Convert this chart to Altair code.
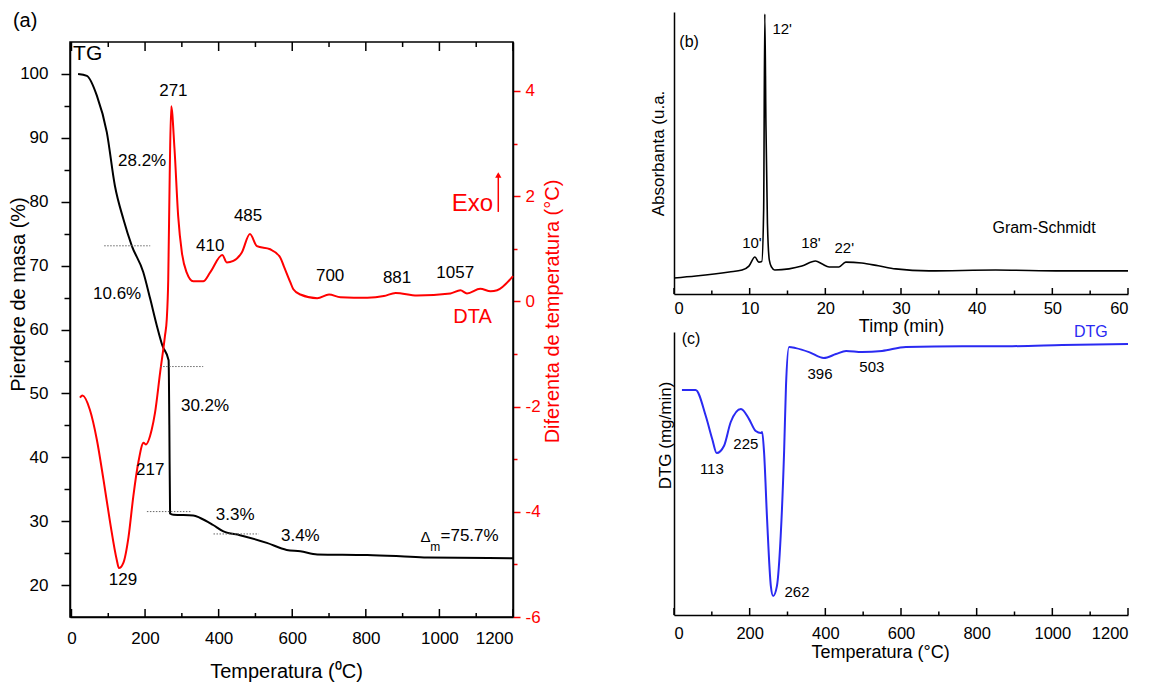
import altair as alt
import pandas as pd

# ---------------- data ----------------
# (a) TG curve
tg_temp = [18, 42, 69, 96, 118, 141, 164, 195, 214, 232, 247, 264, 266, 268, 277, 331, 350, 385,
           413, 458, 531, 585, 622, 668, 804, 894, 967, 1200]
tg_mass = [100.0, 99.7, 96.6, 90.9, 82.5, 77.3, 73.1, 69.0, 64.8, 60.6, 57.5, 55.2, 45.0, 31.2,
           31.0, 30.9, 30.5, 29.4, 28.4, 27.8, 26.6, 25.5, 25.3, 24.8, 24.7, 24.5, 24.3, 24.2]

# (a) DTA curve
dta_temp = [23, 30, 50, 69, 87, 105, 123, 129, 141, 155, 168, 182, 196, 202, 218, 227, 241, 254,
            259, 263, 267, 271, 280, 290, 300, 313, 331, 358, 377, 410, 422, 440, 463, 485, 504,
            540, 567, 577, 595, 603, 622, 668, 700, 731, 804, 849, 881, 939, 1030, 1057, 1075,
            1111, 1139, 1157, 1200]
dta_diff = [-1.83, -1.79, -2.06, -2.63, -3.39, -4.20, -4.91, -5.07, -4.97, -4.48, -3.71, -3.05,
            -2.69, -2.72, -2.44, -2.12, -1.35, -0.66, -0.34, 0.42, 2.40, 3.71, 2.90, 1.62, 0.93,
            0.55, 0.38, 0.38, 0.55, 0.88, 0.74, 0.77, 0.93, 1.28, 1.05, 0.99, 0.84, 0.67, 0.36,
            0.23, 0.13, 0.06, 0.13, 0.08, 0.07, 0.10, 0.16, 0.11, 0.15, 0.21, 0.15, 0.24, 0.19,
            0.21, 0.48]

# (a) annotations on TG scale
tg_lab_temp = [277, 192, 377, 480, 124, 363, 214, 140, 445, 622, 703, 885, 1043]
tg_lab_mass = [97.3, 86.3, 73.1, 77.7, 65.6, 48.0, 38.0, 20.8, 30.9, 27.7, 68.4, 68.1, 68.9]
tg_lab_text = ["271", "28.2%", "410", "485", "10.6%", "30.2%", "217", "129", "3.3%", "3.4%",
               "700", "881", "1057"]

# (a) dotted step markers
step_from = [89, 241, 205, 386]
step_to = [214, 358, 327, 509]
step_mass = [73.1, 54.2, 31.5, 28.0]

# (b) Gram-Schmidt
gs_time = [0, 2.9, 7.3, 9.0, 9.9, 10.7, 11.2, 11.6, 11.85, 12.0, 12.15, 12.35, 12.6, 12.9, 13.3,
           15.2, 16.9, 18.7, 19.6, 20.5, 21.8, 22.7, 24.8, 27.0, 29.3, 33.7, 42.5, 51.3, 60]
gs_abs = [5.7, 6.4, 7.8, 8.5, 9.9, 13.1, 11.3, 11.5, 30, 99.3, 60, 25, 12, 9.5, 8.5, 8.9, 9.9,
          11.7, 10.6, 9.6, 9.6, 11.3, 11.0, 10.0, 8.9, 8.2, 8.5, 8.2, 8.2]
gs_lab_time = [14.3, 10.3, 18.1, 22.5]
gs_lab_abs = [94.0, 18.1, 18.1, 16.3]
gs_lab_text = ["12'", "10'", "18'", "22'"]

# (c) DTG
dtg_temp = [21, 57, 84, 101, 113, 132, 150, 177, 198, 216, 230, 233, 238, 246, 256, 262, 272,
            282, 291, 296, 304, 322, 357, 396, 428, 455, 497, 550, 613, 762, 894, 1026, 1200]
dtg_val = [79.5, 79.5, 70.3, 62.2, 57.2, 59.7, 68.2, 72.8, 69.3, 65.0, 64.3, 64.7, 57.6, 33.9,
           10.2, 6.7, 10.2, 27.9, 57.6, 80.9, 94.7, 94.3, 92.9, 90.8, 92.2, 93.3, 92.9, 93.3,
           94.7, 95.0, 95.0, 95.4, 95.8]
dtg_lab_temp = [100, 190, 325, 386, 523]
dtg_lab_val = [51.6, 60.4, 8.1, 85.2, 87.6]
dtg_lab_text = ["113", "225", "262", "396", "503"]

FONT = "Liberation Sans"
RED = "#ff0000"
BLUE = "#2a2af2"

# ---------------- panel (a) ----------------
XA = alt.Scale(domain=[-4, 1200], nice=False, zero=False)
YTG = alt.Scale(domain=[15, 105], nice=False, zero=False)
YDTA = alt.Scale(domain=[-6, 4.93], nice=False, zero=False)
PX_TG = 575 / 90.0

AX_A = alt.Axis(
    values=list(range(0, 1201, 200)), format="d", tickSize=1, tickOpacity=0, labelPadding=12,
    labelFontSize=17, title="Temperatura (⁰C)", titleFontSize=20, titleX=216, titleY=44,
    domainWidth=1.5, domainColor="black")


def xa(field):
    return alt.X(field, scale=XA, axis=AX_A)


tg_df = pd.DataFrame({"T": tg_temp, "v": tg_mass})
dta_df = pd.DataFrame({"T": dta_temp, "d": dta_diff})

tg_line = alt.Chart(tg_df).mark_line(color="black", strokeWidth=2, interpolate="monotone").encode(
    x=xa("T:Q"),
    y=alt.Y("v:Q", scale=YTG, axis=alt.Axis(
        values=list(range(20, 101, 5)),
        labelExpr="datum.value % 10 === 0 ? datum.label : ''",
        tickSize={"condition": {"test": "datum.value % 10 === 0", "value": 9}, "value": 6},
        tickColor="black", tickWidth=1.5, labelPadding=13, labelFontSize=17,
        domainWidth=1.5, domainColor="black",
        title="Pierdere de masa (%)", titleFontSize=20, titleX=-42, titleY=252)),
)

dta_line = alt.Chart(dta_df).mark_line(color=RED, strokeWidth=2, interpolate="monotone").encode(
    x=xa("T:Q"),
    y=alt.Y("d:Q", scale=YDTA, axis=alt.Axis(
        orient="right", values=list(range(-6, 5)),
        labelExpr="datum.value % 2 === 0 ? '' + datum.value : ''",
        tickSize={"condition": {"test": "datum.value % 2 === 0", "value": 7}, "value": 4},
        tickColor=RED, tickWidth=1.5, labelColor=RED, labelPadding=5, labelFontSize=17,
        domainWidth=1.5, domainColor="black",
        title="Diferenta de temperatura (°C)", titleColor=RED, titleFontSize=20,
        titleAngle=270, titleX=49, titleY=269)),
)

# inward ticks (bottom and top) of panel (a)
ta = list(range(0, 1201, 100))
tick_a_df = pd.DataFrame({
    "T": ta + ta,
    "y0": [15.0] * len(ta) + [105.0] * len(ta),
    "y1": [15 + (8 if t % 200 == 0 else 4) / PX_TG for t in ta]
          + [105 - (9 if t % 200 == 0 else 5) / PX_TG for t in ta],
})
ticks_a = alt.Chart(tick_a_df).mark_rule(color="black", strokeWidth=1.5).encode(
    x=xa("T:Q"), y=alt.Y("y0:Q", scale=YTG, axis=None), y2="y1:Q")

steps_df = pd.DataFrame({"T": step_from, "T2": step_to, "v": step_mass})
steps = alt.Chart(steps_df).mark_rule(color="#666666", strokeWidth=1, strokeDash=[1.5, 1.5]).encode(
    x=xa("T:Q"), x2="T2:Q", y=alt.Y("v:Q", scale=YTG, axis=None))

lab_df = pd.DataFrame({"T": tg_lab_temp, "v": tg_lab_mass, "t": tg_lab_text})
labels_a = alt.Chart(lab_df).mark_text(fontSize=17, font=FONT, color="black").encode(
    x=xa("T:Q"), y=alt.Y("v:Q", scale=YTG, axis=None), text="t:N")

misc_df = pd.DataFrame({
    "T": [44, -126, 962, 989],
    "v": [103.1, 108.3, 27.6, 25.9],
    "t": ["TG", "(a)", "Δ", "m"],
    "s": [21, 20, 15, 12],
})
misc_a = alt.Chart(misc_df).mark_text(font=FONT, color="black").encode(
    x=xa("T:Q"), y=alt.Y("v:Q", scale=YTG, axis=None), text="t:N",
    size=alt.Size("s:Q", scale=None, legend=None))

dm_df = pd.DataFrame({"T": [1003], "v": [27.7], "t": ["=75.7%"]})
dm_a = alt.Chart(dm_df).mark_text(font=FONT, fontSize=17, color="black", align="left").encode(
    x=xa("T:Q"), y=alt.Y("v:Q", scale=YTG, axis=None), text="t:N")

red_df = pd.DataFrame({"T": [1090, 1090], "d": [1.85, -0.30], "t": ["Exo", "DTA"], "s": [24, 20]})
red_a = alt.Chart(red_df).mark_text(font=FONT, color=RED).encode(
    x=xa("T:Q"), y=alt.Y("d:Q", scale=YDTA, axis=None), text="t:N",
    size=alt.Size("s:Q", scale=None, legend=None))

arrow_df = pd.DataFrame({"T": [1160], "d": [1.70], "d2": [2.40]})
arrow_line = alt.Chart(arrow_df).mark_rule(color=RED, strokeWidth=1.5).encode(
    x=xa("T:Q"), y=alt.Y("d:Q", scale=YDTA, axis=None), y2="d2:Q")
arrow_head = alt.Chart(arrow_df).mark_point(shape="triangle-up", filled=True, color=RED,
                                            size=40, opacity=1).encode(
    x=xa("T:Q"), y=alt.Y("d2:Q", scale=YDTA, axis=None))

panel_a = alt.layer(
    tg_line, dta_line, ticks_a, steps, labels_a, misc_a, dm_a, red_a, arrow_line, arrow_head
).resolve_scale(y="independent").properties(
    width=443, height=575, view=alt.ViewBackground(stroke="black", strokeWidth=1.5))

spacer = alt.Chart(pd.DataFrame({"s": [0]})).mark_point(opacity=0).encode(
    x=alt.X("s:Q", axis=None), y=alt.Y("s:Q", axis=None)).properties(width=443, height=1)

# ---------------- panel (b) ----------------
XB = alt.Scale(domain=[0, 60], nice=False, zero=False)
YB = alt.Scale(domain=[0, 100], nice=False, zero=False)
PX_B = 282 / 100.0
AX_BX = alt.Axis(values=list(range(0, 61, 10)), tickSize=1, tickOpacity=0, labelPadding=5,
                 labelFontSize=16.5, title="Timp (min)", titleFontSize=18, titleY=23,
                 domainWidth=1.5, domainColor="black")
AX_BY = alt.Axis(tickSize=1, tickOpacity=0, labels=False, domainWidth=1.5, domainColor="black",
                 title="Absorbanta (u.a.", titleFontSize=17, titleX=-7)


def xb(field):
    return alt.X(field, scale=XB, axis=AX_BX)


def yb(field):
    return alt.Y(field, scale=YB, axis=AX_BY)


gs_df = pd.DataFrame({"t": gs_time, "a": gs_abs})
gs_line = alt.Chart(gs_df).mark_line(color="black", strokeWidth=1.6, interpolate="monotone").encode(
    x=xb("t:Q"), y=yb("a:Q"))
tb = list(range(0, 61, 5))
tick_b_df = pd.DataFrame({"t": tb, "a": [0.0] * len(tb),
                          "a2": [(6 if v % 10 == 0 else 3.5) / PX_B for v in tb]})
ticks_b = alt.Chart(tick_b_df).mark_rule(color="black", strokeWidth=1.5).encode(
    x=xb("t:Q"), y=yb("a:Q"), y2="a2:Q")
gs_lab_df = pd.DataFrame({"t": gs_lab_time, "a": gs_lab_abs, "s": gs_lab_text})
labels_b = alt.Chart(gs_lab_df).mark_text(font=FONT, fontSize=15, color="black").encode(
    x=xb("t:Q"), y=yb("a:Q"), text="s:N")
misc_b_df = pd.DataFrame({"t": [2.0, 48.9], "a": [89.4, 23.4], "s": ["(b)", "Gram-Schmidt"]})
misc_b = alt.Chart(misc_b_df).mark_text(font=FONT, fontSize=16, color="black").encode(
    x=xb("t:Q"), y=yb("a:Q"), text="s:N")
panel_b = alt.layer(gs_line, ticks_b, labels_b, misc_b).properties(width=454, height=282)

# ---------------- panel (c) ----------------
XC = alt.Scale(domain=[0, 1200], nice=False, zero=False)
YC = alt.Scale(domain=[0, 100], nice=False, zero=False)
PX_C = 283 / 100.0
AX_CX = alt.Axis(values=list(range(0, 1201, 200)), format="d", tickSize=1, tickOpacity=0,
                 labelPadding=9, labelFontSize=16.5, title="Temperatura (°C)", titleFontSize=18,
                 titleX=206, titleY=28, domainWidth=1.5, domainColor="black")
AX_CY = alt.Axis(tickSize=1, tickOpacity=0, labels=False, domainWidth=1.5, domainColor="black",
                 title="DTG (mg/min)", titleFontSize=17, titleX=0, titleY=103)


def xc(field):
    return alt.X(field, scale=XC, axis=AX_CX)


def yc(field):
    return alt.Y(field, scale=YC, axis=AX_CY)


dtg_df = pd.DataFrame({"T": dtg_temp, "c": dtg_val})
dtg_line = alt.Chart(dtg_df).mark_line(color=BLUE, strokeWidth=2, interpolate="monotone").encode(
    x=xc("T:Q"), y=yc("c:Q"))
tc = list(range(0, 1201, 100))
tick_c_df = pd.DataFrame({"T": tc, "c": [0.0] * len(tc),
                          "c2": [(7 if v % 200 == 0 else 3.5) / PX_C for v in tc]})
ticks_c = alt.Chart(tick_c_df).mark_rule(color="black", strokeWidth=1.5).encode(
    x=xc("T:Q"), y=yc("c:Q"), y2="c2:Q")
dtg_lab_df = pd.DataFrame({"T": dtg_lab_temp, "c": dtg_lab_val, "s": dtg_lab_text})
labels_c = alt.Chart(dtg_lab_df).mark_text(font=FONT, fontSize=15, color="black").encode(
    x=xc("T:Q"), y=yc("c:Q"), text="s:N")
misc_c_df = pd.DataFrame({"T": [45, 1102], "c": [97.5, 100.0], "s": ["(c)", "DTG"],
                          "col": ["black", BLUE]})
misc_c = alt.Chart(misc_c_df).mark_text(font=FONT, fontSize=16).encode(
    x=xc("T:Q"), y=yc("c:Q"), text="s:N",
    color=alt.Color("col:N", scale=None, legend=None))
panel_c = alt.layer(dtg_line, ticks_c, labels_c, misc_c).properties(width=454, height=283)

# ---------------- layout ----------------
left_col = alt.vconcat(spacer, panel_a, spacing=29, bounds="flush")
right_col = alt.vconcat(panel_b, panel_c, spacing=38, bounds="flush")
chart = alt.hconcat(left_col, right_col, spacing=85).properties(
    padding={"left": 7, "top": 9, "right": 5, "bottom": 5}
).configure(font=FONT).configure_view(stroke="transparent").configure_axis(
    labelFont=FONT, titleFont=FONT, grid=False, titleFontWeight="normal",
    labelColor="black", titleColor="black")

chart.save("out.html", embed_options={"renderer": "svg", "actions": False})
